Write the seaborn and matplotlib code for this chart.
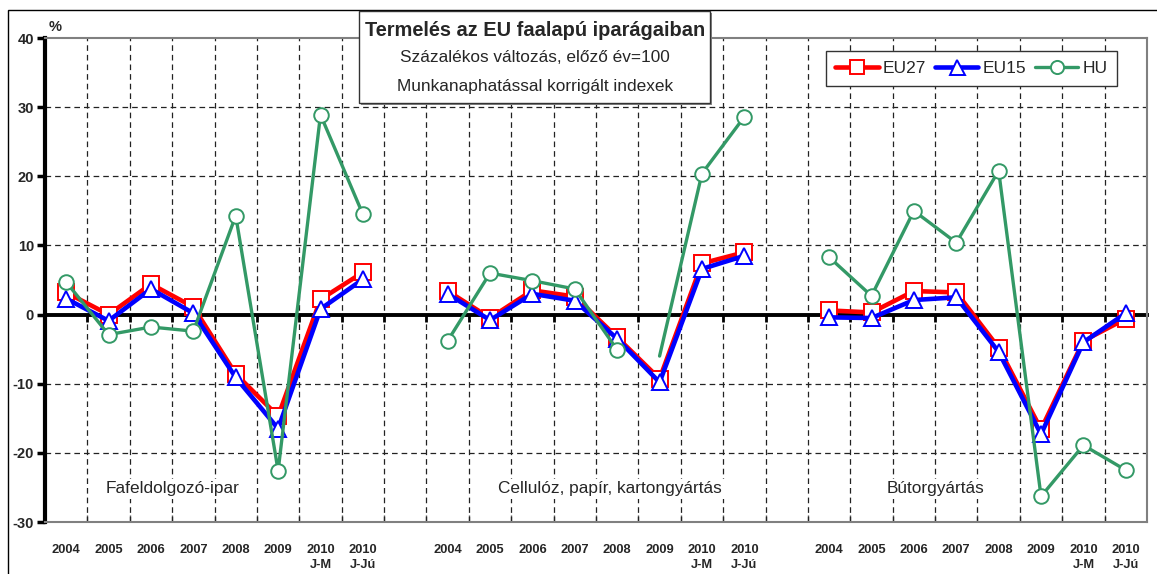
import numpy as np
import pandas as pd
import matplotlib
matplotlib.use("Agg")
import matplotlib.pyplot as plt
from matplotlib.lines import Line2D
from matplotlib.patches import Rectangle
import seaborn as sns

# ---------------- data ----------------
categories = ["2004", "2005", "2006", "2007", "2008", "2009", "2010\nJ-M", "2010\nJ-Jú"]
group_names = ["Fafeldolgozó-ipar", "Cellulóz, papír, kartongyártás", "Bútorgyártás"]
series_names = ["EU27", "EU15", "HU"]

eu27_wood = [3.2, 0.0, 4.4, 1.1, -8.6, -14.7, 2.2, 6.1]
eu15_wood = [2.3, -0.9, 3.7, 0.2, -9.1, -16.5, 0.8, 5.1]
hu_wood = [4.7, -2.9, -1.8, -2.4, 14.3, -22.6, 28.9, 14.5]

eu27_paper = [3.4, -0.5, 3.5, 2.6, -3.3, -9.3, 7.4, 9.0]
eu15_paper = [3.0, -0.8, 3.0, 2.0, -3.5, -9.8, 6.6, 8.5]
hu_paper = [-3.8, 6.0, 4.9, 3.7, -5.1, -6.0, 20.4, 28.6]

eu27_furn = [0.6, 0.3, 3.4, 3.2, -4.8, -16.6, -3.8, -0.6]
eu15_furn = [-0.4, -0.5, 2.1, 2.5, -5.4, -17.3, -4.0, 0.2]
hu_furn = [8.3, 2.7, 15.0, 10.4, 20.8, -26.3, -18.9, -22.5]

y_ticks = [-30, -20, -10, 0, 10, 20, 30, 40]

title_lines = ["Termelés az EU faalapú iparágaiban",
               "Százalékos változás, előző év=100",
               "Munkanaphatással korrigált indexek"]

# ---------------- long-form table ----------------
series_data = {
    "EU27": [eu27_wood, eu27_paper, eu27_furn],
    "EU15": [eu15_wood, eu15_paper, eu15_furn],
    "HU": [hu_wood, hu_paper, hu_furn],
}
n_cat = len(categories)
gap = 1
rows = []
for g, gname in enumerate(group_names):
    offset = g * (n_cat + gap)
    for name in series_names:
        for i, (c, v) in enumerate(zip(categories, series_data[name][g])):
            rows.append(dict(group=gname, series=name, cat=c, x=offset + i, value=v))
df = pd.DataFrame(rows)

# ---------------- style ----------------
sns.set_theme(style="white")
plt.rcParams['font.family'] = ['Liberation Sans', 'DejaVu Sans']

W, H = 1157, 574
fig = plt.figure(figsize=(W / 100, H / 100), dpi=100)


def fx(px):
    return px / W


def fy(py):
    return 1 - py / H


ax = fig.add_axes([fx(45), fy(522), fx(1147) - fx(45), fy(38) - fy(522)])

styles = {
    "EU27": dict(color="#FF0000", marker="s", markersize=11.5, linewidth=3.3),
    "EU15": dict(color="#0000FF", marker="^", markersize=12, linewidth=3.3),
    "HU": dict(color="#339966", marker="o", markersize=10.5, linewidth=2.4),
}

n_slots = 3 * n_cat + 2 * gap
ax.set_xlim(-0.5, n_slots - 0.5)
ax.set_ylim(y_ticks[0], y_ticks[-1])

boundaries = np.arange(0.5, n_slots - 1, 1.0)
grid_kw = dict(color="#222222", linestyle=(0, (4.5, 3.2)), linewidth=0.9, zorder=0.6)
ax.hlines([t for t in y_ticks[1:-1] if t != 0], -0.5, n_slots - 0.5, **grid_kw)
ax.vlines(boundaries, y_ticks[0], y_ticks[-1], **grid_kw)

for g, gname in enumerate(group_names):
    for name in series_names:
        sub = df[(df.group == gname) & (df.series == name)]
        st = styles[name]
        kw = dict(color=st["color"], marker=st["marker"], markersize=st["markersize"],
                  linewidth=st["linewidth"], markerfacecolor="white",
                  markeredgecolor=st["color"], markeredgewidth=1.4,
                  legend=False, ax=ax, estimator=None, sort=False, zorder=3)
        if name == "HU" and g == 1:
            sns.lineplot(data=sub.iloc[:5], x="x", y="value", **kw)
            sns.lineplot(data=sub.iloc[5:], x="x", y="value", markevery=[1, 2], **kw)
        else:
            sns.lineplot(data=sub, x="x", y="value", **kw)

ax.set_xlabel("")
ax.set_ylabel("")

# x ticks (bottom)
centers = [g * (n_cat + gap) + i for g in range(3) for i in range(n_cat)]
ax.set_xticks(centers)
ax.set_xticklabels(categories * 3, fontweight="bold", fontsize=9.3, linespacing=1.3)
ax.set_xticks(boundaries, minor=True)
ax.tick_params(axis="x", which="major", length=0, pad=16, bottom=True)
ax.tick_params(axis="x", which="minor", direction="in", length=5, width=1,
               color="#555555", bottom=True)

# y ticks
ax.set_yticks(y_ticks)
ax.set_yticklabels([str(t) for t in y_ticks], fontweight="bold", fontsize=10.5)
ax.tick_params(axis="y", which="major", direction="out", length=6, width=2.5,
               color="black", pad=2, left=True)

for s in ["top", "right", "bottom"]:
    ax.spines[s].set_color("#808080")
    ax.spines[s].set_linewidth(1.5)
ax.spines["left"].set_color("black")
ax.spines["left"].set_linewidth(3)

# zero axis with downward ticks
zero_pos = (0 - y_ticks[0]) / (y_ticks[-1] - y_ticks[0])
sec = ax.secondary_xaxis(zero_pos)
sec.set_xticks(boundaries)
sec.tick_params(axis="x", which="major", direction="out", length=5, width=2,
                color="black", labelbottom=False, labeltop=False)
for s in sec.spines.values():
    s.set_color("black")
    s.set_linewidth(2.8)
sec.set_zorder(1)

# group labels
label_x = [2.5, 12.83, 20.5]
for gname, lx in zip(group_names, label_x):
    ax.text(lx, -25.2, gname, ha="center", va="center", fontsize=12.4,
            bbox=dict(facecolor="white", edgecolor="none", pad=2), zorder=2.5)

# % label
fig.text(fx(55), fy(27), "%", ha="center", va="center", fontsize=10.5, fontweight="bold")

# title box
shadow = Rectangle((fx(361), fy(105)), fx(710) - fx(359), fy(11) - fy(103),
                   transform=fig.transFigure, facecolor="#888888", edgecolor="none", zorder=5)
box = Rectangle((fx(359), fy(103)), fx(710) - fx(359), fy(11) - fy(103),
                transform=fig.transFigure, facecolor="white", edgecolor="#333333",
                linewidth=1, zorder=6)
fig.add_artist(shadow)
fig.add_artist(box)
fig.text(fx(535), fy(31), title_lines[0], ha="center", va="center", fontsize=14.4,
         fontweight="bold", zorder=7)
fig.text(fx(535), fy(58), title_lines[1], ha="center", va="center", fontsize=12.4, zorder=7)
fig.text(fx(535), fy(86), title_lines[2], ha="center", va="center", fontsize=12.4, zorder=7)

# legend
handles = [Line2D([], [], color=styles[n]["color"], marker=styles[n]["marker"],
                  markersize=styles[n]["markersize"] * 0.9, linewidth=styles[n]["linewidth"],
                  markerfacecolor="white", markeredgecolor=styles[n]["color"],
                  markeredgewidth=1.4) for n in series_names]
leg = fig.legend(handles, series_names, loc="center", bbox_to_anchor=(fx(971.5), fy(68.5)),
                 ncol=3, frameon=True, fancybox=False, edgecolor="#333333", framealpha=1,
                 fontsize=12.5, handlelength=2.5, columnspacing=0.5, handletextpad=0.25,
                 borderpad=0.55)
leg.get_frame().set_linewidth(1)
leg.set_zorder(8)

# outer frame
fig.add_artist(Rectangle((fx(8), -0.5), 2, fy(10) + 0.5, transform=fig.transFigure,
                         fill=False, edgecolor="black", linewidth=1))

fig.savefig("out.png", dpi=100)
